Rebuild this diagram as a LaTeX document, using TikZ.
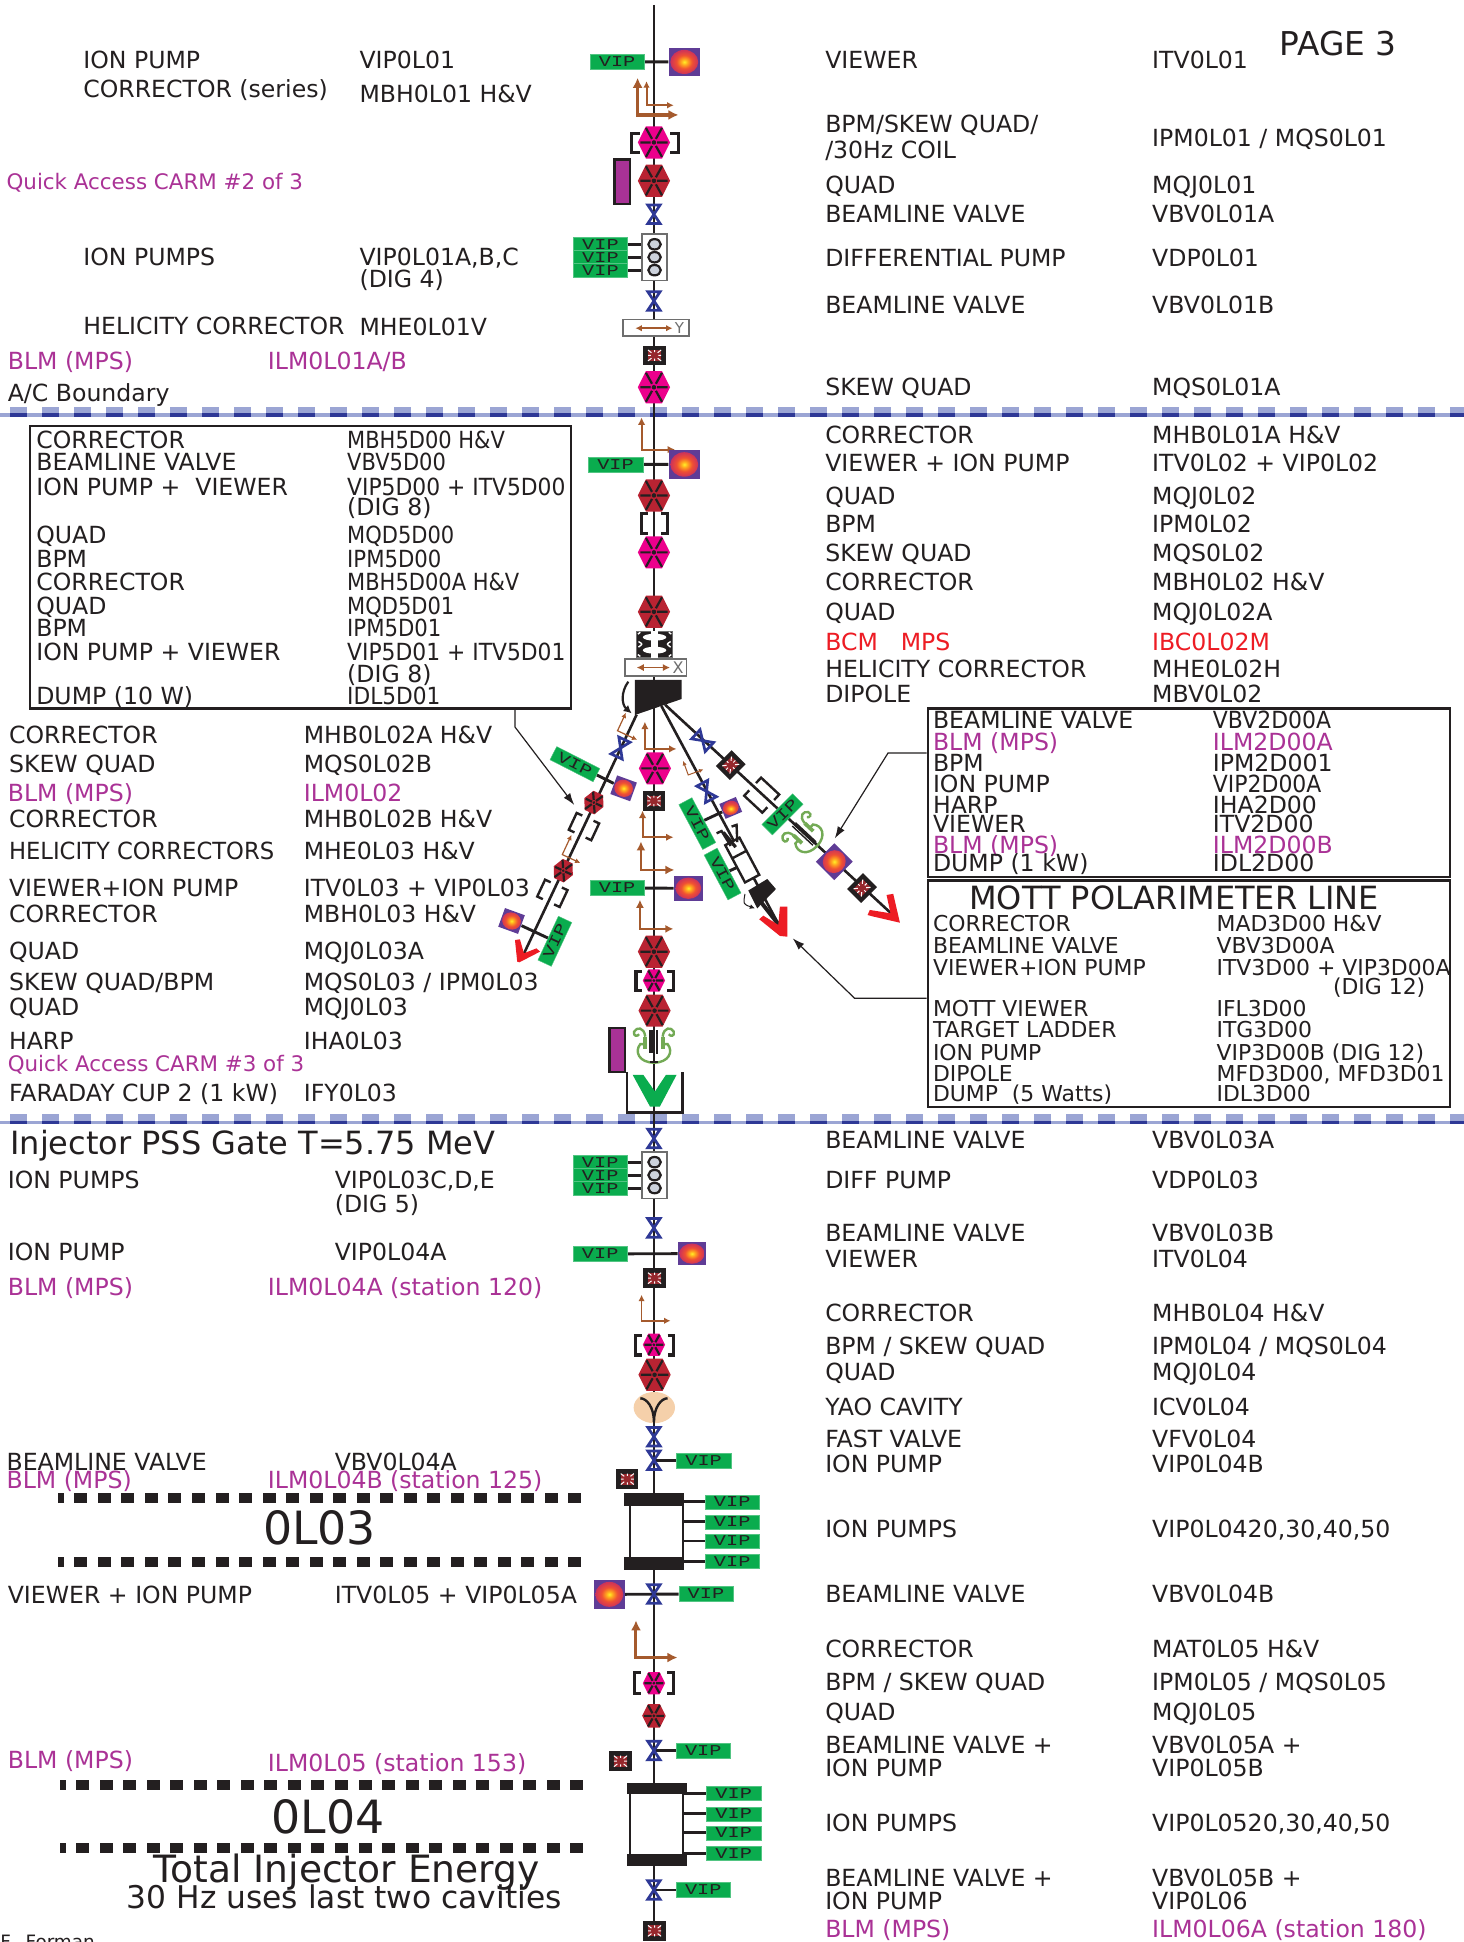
\documentclass[tikz,border=0pt]{standalone}
\usepackage{fontspec}
\usepackage{graphicx}
\setmainfont{DejaVu Sans}
\newfontfamily\vipf{Liberation Mono}
\usetikzlibrary{arrows.meta,backgrounds,calc}
\definecolor{txt}{RGB}{35,31,32}
\definecolor{mpur}{RGB}{170,50,150}
\definecolor{mred}{RGB}{237,28,36}
\definecolor{vipg}{RGB}{10,172,78}
\definecolor{hpink}{RGB}{236,0,140}
\definecolor{hred}{RGB}{185,35,50}
\definecolor{vblue}{RGB}{46,56,150}
\definecolor{cbrown}{RGB}{165,90,45}
\definecolor{vwbg}{RGB}{95,60,150}
\definecolor{vwa}{RGB}{255,240,40}
\definecolor{vwb}{RGB}{255,165,30}
\definecolor{vwc}{RGB}{240,80,50}
\definecolor{vwd}{RGB}{205,50,90}
\definecolor{blmr}{RGB}{150,40,45}
\definecolor{bandl}{RGB}{155,165,212}
\definecolor{bandd}{RGB}{46,56,150}
\definecolor{harpg}{RGB}{115,170,85}
\definecolor{peach}{RGB}{245,208,170}
\definecolor{capp}{RGB}{168,50,150}
\definecolor{ringf}{RGB}{205,210,220}
\definecolor{grayb}{RGB}{110,110,110}
\pgfdeclareradialshading{vw}{\pgfpointorigin}{color(0bp)=(vwa); color(6bp)=(vwb); color(14bp)=(vwc); color(25bp)=(vwd); color(50bp)=(vwd)}
\newcounter{lb}
\newcommand\lab[4][txt]{\stepcounter{lb}\node[lbl,text=#1] (lb\arabic{lb}) at (#2,{#3+7}) {#4};}
\newcommand\lrow[5]{\lab{#1}{#3}{#4}\lab{#2}{#3}{#5}}
\newcommand\rrow[3]{\lab{666}{#1}{#2}\lab{930}{#1}{#3}}
\newcommand\purow[3]{\lab[mpur]{6}{#1}{#2}\lab[mpur]{#3}{#1}}
% box 1 row: scale of the second column as the last argument
\newcommand\brow[4]{\lab{29}{#1}{#2}\lab{280}{#1}{\scalebox{#4}[1]{#3}}}
% box 3 row: smaller type
\newcommand\mrow[3]{\lab{753}{#1}{\fontsize{10.95pt}{11pt}\selectfont #2}\lab{982}{#1}{\fontsize{10.95pt}{11pt}\selectfont #3}}
\newcommand\hexa[5]{\begin{scope}[shift={(#1,#2)},rotate=#5]
 \fill[#4] (-#3,0)--({-#3/2},-#3)--({#3/2},-#3)--(#3,0)--({#3/2},#3)--({-#3/2},#3)--cycle;
 \draw[spoke] ({-.85*#3},0)--({-.2*#3},0) ({.2*#3},0)--({.85*#3},0)
  ({-.5*#3},{-.9*#3})--({-.12*#3},{-.22*#3}) ({.5*#3},{-.9*#3})--({.12*#3},{-.22*#3})
  ({-.5*#3},{.9*#3})--({-.12*#3},{.22*#3}) ({.5*#3},{.9*#3})--({.12*#3},{.22*#3});
 \fill[txt] (0,0) circle ({.14*#3});
\end{scope}}
\newcommand\valve[3]{\draw[valveline,shift={(#1,#2)},rotate=#3] (-5,-7.5)--(5,-7.5)--(-5,7.5)--(5,7.5)--cycle;}
\newcommand\blm[3]{\begin{scope}[shift={(#1,#2)},rotate=#3]
 \fill[txt] (-9,-8) rectangle (9,8);
 \fill[blmr] (-5.3,-4.4) rectangle (5.3,4.4);
 \draw[white,line width=.5pt] (-5.3,-4.4)--(-2.5,-2.2) (5.3,-4.4)--(2.5,-2.2) (-5.3,4.4)--(-2.5,2.2) (5.3,4.4)--(2.5,2.2) (0,-4.4)--(0,-2.6) (0,4.4)--(0,2.6) (-5.3,0)--(-3,0) (5.3,0)--(3,0);
\end{scope}}
\newcommand\corr[7][3.7pt]{\draw[cbrown,line width=#6,{Latex[length=#1,width=#1]}-{Latex[length=#1,width=#1]},shift={(#2,#3)},rotate=#7] (0,-#4) -- (0,0) -- (#5,0);}
\newcommand\bracks[7]{\draw[txt,line width=#6,shift={(#1,#2)},rotate=#7]
 ({-#3+#5},-#4)--(-#3,-#4)--(-#3,#4)--({-#3+#5},#4) ({#3-#5},-#4)--(#3,-#4)--(#3,#4)--({#3-#5},#4);}
\newcommand\vipn[5][]{\node[vipbox,rotate=#5,#1] (#2) at (#3,#4) {\scalebox{1.35}[1]{VIP}};}
\newcommand\viewer[6]{\node[vwbox,minimum width={#4*.61929pt},minimum height={#5*.61929pt},rotate=#6] (#1) at (#2,#3) {};
 \begin{scope}[shift={(#2,#3)},rotate=#6]\shade[shading=vw] (0,0) ellipse ({#4*.45} and {#5*.43});\end{scope}}
\newcommand\pump[2]{\node[pumpbox] (#1) at (528.5,#2) {};
 \foreach \d in {-10.45,0,10.45} {\draw[txt,line width=1.1pt,fill=ringf] (528.5,{#2+\d}) ellipse (5 and 4.2);}}
\newcommand\harp[5]{\begin{scope}[shift={(#1,#2)},rotate=#4,scale=#3]
 \draw[harpg,line width=1.9pt] (-7,-7)--(-7,3) (7,-7)--(7,3);
 \draw[harpg,line width=1.2pt] (-7,-7) .. controls (-8,-15) and (-14,-15) .. (-16,-11) .. controls (-17,-7) and (-13,-7) .. (-12,-9)
   (7,-7) .. controls (8,-15) and (14,-15) .. (16,-11) .. controls (17,-7) and (13,-7) .. (12,-9)
   (-7,-1) -- (-11,-1) .. controls (-16,5) and (-12,14) .. (0,14) .. controls (12,14) and (16,5) .. (11,-1) -- (7,-1);
 #5
\end{scope}}
\newcommand\dashrow[3]{\foreach \k in {0,...,21} {\fill[txt] ({#1-19*\k-10.5},{#2-4}) rectangle ({#1-19*\k},{#2+4});}
 \fill[txt] (#3,{#2-4}) rectangle ({#1-19*22},{#2+4});}
\newcommand\band[1]{\fill[bandl] (0,{#1+5.4}) rectangle (1182,{#1+8.1});
 \foreach \k in {-19,...,28} {\fill[bandl] ({473.1+25.84*\k},#1) rectangle ({486.9+25.84*\k},{#1+5.4});
  \fill[bandd] ({473.1+25.84*\k},{#1+5.4}) rectangle ({486.9+25.84*\k},{#1+8.1});}}
\newcommand\cavity[3]{\node[cavbox,minimum width=42.5*.61929pt,minimum height={(#3-#2-9.5)*.61929pt}] (cav#1) at (530,{(#2+#3)/2}) {};}
\tikzset{
 lbl/.style={anchor=base west,inner sep=0pt,font=\fontsize{11.8pt}{12pt}\selectfont},
 big/.style={anchor=base west,inner sep=0pt,text=txt},
 spoke/.style={txt,line width=1.1pt},
 valveline/.style={vblue,line width=1.35pt,line join=miter},
 vipbox/.style={fill=vipg,draw=vipg!70!white,line width=.2pt,minimum width=27.2pt,minimum height=7.4pt,inner sep=0pt,text=txt,font=\vipf\fontsize{7.5pt}{8pt}\selectfont},
 vwbox/.style={fill=vwbg,inner sep=0pt},
 pumpbox/.style={draw=grayb,fill=white,line width=.7pt,minimum width=12.6pt,minimum height=23.1pt,inner sep=0pt},
 cavbox/.style={draw=txt,fill=white,line width=1pt,inner sep=0pt},
 frameb/.style={draw=txt,line width=1.2pt,inner sep=0pt},
 beam/.style={txt,line width=1.3pt},
 stub/.style={txt,line width=1.45pt},
 notearrow/.style={txt,line width=.6pt,-{Latex[length=6pt,width=4pt]}},
 heli/.style={draw=grayb,fill=white,line width=.6pt,inner sep=0pt},
 sbox/.style={fill=capp,draw=txt,line width=1.3pt,inner sep=0pt},
}
\begin{document}
\begin{tikzpicture}[x=0.61929pt,y=-0.61929pt]
\useasboundingbox (0,0) rectangle (1182,1568);
\begin{scope}[on background layer]
 \fill[white] (0,0) rectangle (1182,1568);
 \band{328.3}
 \band{899.4}
 \coordinate (btop) at (528,4); \coordinate (bbot) at (528,1562);
 \draw[beam] (btop)--(bbot);
 \coordinate (d1) at (514,577); \coordinate (e1) at (423,770);
 \coordinate (d2) at (534,570); \coordinate (e2) at (629,747);
 \coordinate (d3) at (537,569); \coordinate (e3) at (719,737);
 \draw[beam] (d1)--(e1) (d2)--(e2) (d3)--(e3);
\end{scope}

% ---- upper section
\vipn{vipA}{498.3}{50}{0}
\viewer{vwA}{552.5}{50}{25}{22.6}{0}
\corr[5pt]{514.8}{92.8}{30}{33}{1.7pt}{0}
\corr[3.3pt]{522}{85}{19.5}{22}{1pt}{0}
\bracks{528.8}{115.6}{18.8}{7.6}{6.5}{1.5pt}{0}
\hexa{528}{115}{13}{hpink}{0}
\node[sbox,minimum width=7.8pt,minimum height=22.3pt] (qa1) at (502.3,146.6) {};
\hexa{528}{146}{13}{hred}{0}
\valve{528}{173}{0}
\pump{pumpA}{207.7}
\vipn[minimum height=6.7pt]{vipB1}{484.8}{197.3}{0}
\vipn[minimum height=6.7pt]{vipB2}{484.8}{207.8}{0}
\vipn[minimum height=6.7pt]{vipB3}{484.8}{218.2}{0}
\valve{528}{243}{0}
\node[heli,minimum width=33pt,minimum height=8.4pt] (helY) at (529.6,264.5) {};
\draw[cbrown,line width=.8pt,{Latex[length=3.2pt,width=3.2pt]}-{Latex[length=3.2pt,width=3.2pt]}] (513,265)--(543,265);
\node[inner sep=0pt,text=grayb,font=\fontsize{7.5pt}{8pt}\selectfont] (helYt) at (548.5,265) {Y};
\blm{528.5}{287}{0}
\hexa{528}{312.7}{13}{hpink}{0}

% ---- middle section, central line
\corr[3.7pt]{518}{363}{26}{27}{1pt}{0}
\vipn{vipC}{497}{375}{0}
\viewer{vwC}{552.5}{375}{25}{23}{0}
\hexa{528}{400}{13}{hred}{0}
\bracks{528.5}{423}{10.5}{8}{5}{1.5pt}{0}
\hexa{528}{446}{13}{hpink}{0}
\hexa{528}{494}{13}{hred}{0}
\fill[txt] (514,509.5) rectangle (543,531);
\draw[grayb,line width=.4pt] (514,509.5) rectangle (543,531);
\fill[white] (528.5,514.5) ellipse (9.5 and 2.8);
\fill[white] (528.5,525) ellipse (9.5 and 2.8);
\fill[white] (526,509.5) rectangle (531,531);
\draw[white,line width=.7pt] (515,512) -- (517,510.5) (542,512) -- (540,510.5) (515,528.5) -- (517,530) (542,528.5) -- (540,530) (515.5,518) .. controls (519,520) .. (515.5,522.5) (541.5,518) .. controls (538,520) .. (541.5,522.5);
\node[heli,minimum width=30.8pt,minimum height=8.5pt] (helX) at (529.5,539) {};
\draw[cbrown,line width=.8pt,{Latex[length=3.6pt,width=3.6pt]}-{Latex[length=3.6pt,width=3.6pt]}] (514,539)--(541,539);
\node[inner sep=0pt,text=grayb,font=\fontsize{8pt}{8pt}\selectfont] (helXt) at (547.5,539) {X};
\fill[txt] (512.6,549)--(550.3,549)--(550.3,564.4)--(512.6,577.3)--cycle;
\draw[txt,line width=1.1pt,-{Latex[length=4pt,width=4pt]}] (507.3,550.4) .. controls (501,559) and (502,569) .. (510,576);

\corr[3.7pt]{520.7}{604.7}{22}{25.5}{1pt}{0}
\hexa{528.8}{620.4}{13}{hpink}{0}
\blm{528}{646.7}{0}
\corr[3.7pt]{518.8}{676}{21.5}{25}{1pt}{0}
\corr[4.5pt]{517.5}{702.4}{23}{27}{1.3pt}{0}
\vipn{vipD}{498.3}{717}{0}
\viewer{vwD}{555.8}{717.2}{23}{20}{0}
\corr[4pt]{516.7}{750}{23.5}{27}{1.1pt}{0}
\hexa{528}{768.4}{13}{hred}{0}
\bracks{528.5}{792}{15}{7.8}{5}{1.6pt}{0}
\hexa{528}{791.7}{9}{hpink}{0}
\hexa{528.5}{816}{13}{hred}{0}
\harp{528}{844}{1}{0}{\fill[txt] (-3.8,-12) rectangle (-.8,6.5); \fill[txt] (1.5,-12) rectangle (3.6,7); \draw[txt,line width=1pt] (-3,13.6)--(3,13.6);}
\node[sbox,minimum width=7.8pt,minimum height=22pt] (qa2) at (498.3,847.8) {};
\draw[txt,line width=1.1pt] (506,865.7)--(506,898.3)--(551,898.3)--(551,865.7);
\fill[vipg] (510.8,867.8)--(519.4,867.8)--(528.8,881.3)--(537.7,867.8)--(546.3,867.8)--(532.8,893.4)--(524.8,893.4)--cycle;

% ---- branch 1
\corr[2.6pt]{498.6}{590}{16}{17.5}{.6pt}{-25}
\valve{501}{604}{-25}
\vipn[minimum width=24.2pt]{vipE}{464.2}{617}{-27}
\viewer{vwE}{503.5}{636.5}{17}{16}{-20}
\hexa{479.5}{648}{8.5}{hred}{-25}
\bracks{471.5}{667.4}{10}{7.5}{5}{1.2pt}{-25}
\corr[2.6pt]{454}{690}{17.5}{16}{.6pt}{-25}
\hexa{454.8}{703}{8.5}{hred}{-25}
\bracks{446}{721.3}{10}{7.5}{5}{1.2pt}{-25}
\viewer{vwF}{413}{743.6}{17}{16}{-20}
\vipn[minimum width=24.2pt]{vipF}{448}{760}{65}
\fill[mred] (415.8,759)--(419.8,758.4)--(423,769.7)--(433.2,765.7)--(436,768.4)--(419.3,777)--(417.6,776.4)--cycle;

% ---- branch 2 (Mott)
\corr[2.2pt]{555.7}{625.7}{12}{13}{.5pt}{20}
\valve{570.5}{639}{28}
\viewer{vwG}{590}{652.3}{14.5}{13}{23}
\vipn[minimum width=25.4pt]{vipG1}{563}{665}{-62}
\vipn[minimum width=25.4pt]{vipG2}{583.4}{705.7}{-62}
\coordinate (mottb) at (595.3,700.3);
\draw[txt,line width=1.2pt,fill=white,shift={(599.3,694.4)},rotate=28] (-6.5,-17) rectangle (6.5,17);
\draw[txt,line width=1.2pt,shift={(599.3,694.4)},rotate=28] (-6.5,-5) -- (6.5,-5);
\draw[txt,line width=1.2pt] (578.6,672.8)--(582.6,671)--(590,683) (590.7,667.4)--(594.7,666)--(595.3,680);
\draw[txt,line width=1.6pt] (584,672)--(594,684);
\fill[txt] (604.2,719)--(619.5,709.7)--(626.5,717.8)--(611.4,733.4)--cycle;
\draw[txt,line width=2pt] (611,724)--(629,747);
\draw[txt,line width=.5pt,-{Latex[length=2.5pt,width=2.5pt]}] (601.5,721.8) .. controls (600,730) .. (609.5,733.4);
\fill[mred] (613,742.2)--(616.3,739.3)--(628.4,746.8)--(629.7,732)--(635.7,732)--(635.7,756.3)--(629.7,755.7)--cycle;

% ---- branch 3
\valve{567.3}{598}{47}
\blm{590}{617.7}{45}
\bracks{615}{642}{10}{10}{6}{1.2pt}{47}
\vipn[minimum width=21.7pt]{vipH}{631.8}{657.5}{45}
\harp{650}{674}{.95}{47}{\draw[txt,line width=.7pt] (-2,-13)--(-2,11) (0,-13)--(0,11) (2,-13)--(2,11);}
\viewer{vwH}{673.6}{695.7}{21}{21}{45}
\blm{696}{717}{45}
\fill[mred] (700.5,738.8)--(702.3,734.7)--(719,737.4)--(715.8,722.6)--(721.2,721.7)--(726.6,745)--(705,740)--cycle;

% ---- lower section
\valve{528}{919.2}{0}
\pump{pumpB}{948.8}
\vipn[minimum height=6.7pt]{vipI1}{484.6}{938.3}{0}
\vipn[minimum height=6.7pt]{vipI2}{484.6}{948.8}{0}
\vipn[minimum height=6.7pt]{vipI3}{484.6}{959.3}{0}
\valve{528}{991.4}{0}
\vipn{vipJ}{484.6}{1012.4}{0}
\viewer{vwJ}{558.7}{1012.2}{22.6}{19}{0}
\blm{528.5}{1032}{0}
\corr[3.2pt]{518}{1066.4}{21}{23.4}{.9pt}{0}
\bracks{528.5}{1086}{15.5}{8}{5}{1.6pt}{0}
\hexa{528}{1085.8}{9}{hpink}{0}
\hexa{528.5}{1110}{13}{hred}{0}
\fill[peach] (528.3,1136.5) ellipse (16.7 and 12.6);
\draw[txt,line width=1.2pt] (517,1129) .. controls (522,1129) and (528,1136) .. (528,1148) .. controls (528,1136) and (534,1129) .. (539,1129);
\draw[txt,line width=1.3pt] (528,1140)--(528,1152);
\valve{528}{1160}{0}
\valve{528}{1179}{0}
\vipn{vipK}{568.1}{1179.3}{0}
\blm{506.5}{1194.2}{0}
\cavity{1}{1205.7}{1267.5}
\fill[txt] (504,1205.7) rectangle (552.2,1215.6);
\fill[txt] (504,1256.8) rectangle (552.2,1267.5);
\vipn[minimum height=7pt]{vipL1}{591.2}{1212.6}{0}
\vipn[minimum height=7pt]{vipL2}{591.2}{1228.7}{0}
\vipn[minimum height=7pt]{vipL3}{591.2}{1244.2}{0}
\vipn[minimum height=7pt]{vipL4}{591.2}{1260.8}{0}
\valve{528}{1287}{0}
\vipn{vipM}{570}{1287}{0}
\viewer{vwM}{492}{1287.3}{25}{23.4}{0}
\corr[5pt]{513.5}{1338.3}{30}{33.5}{1.5pt}{0}
\bracks{528}{1359}{15.8}{8.5}{5}{1.6pt}{0}
\hexa{528}{1359}{9}{hpink}{0}
\hexa{528}{1385.4}{9.5}{hred}{0}
\valve{528}{1413.4}{0}
\vipn{vipN}{567.8}{1413.5}{0}
\blm{501}{1422}{0}
\cavity{2}{1439.5}{1506.5}
\fill[txt] (506.2,1439.5) rectangle (554.4,1448.7);
\fill[txt] (506.5,1497) rectangle (554.6,1506.5);
\vipn[minimum height=7pt]{vipO1}{592.4}{1448.2}{0}
\vipn[minimum height=7pt]{vipO2}{592.4}{1464.4}{0}
\vipn[minimum height=7pt]{vipO3}{592.4}{1479.8}{0}
\vipn[minimum height=7pt]{vipO4}{592.4}{1496.4}{0}
\valve{528}{1526}{0}
\vipn{vipP}{567.8}{1526}{0}
\blm{528.5}{1559}{0}

\begin{scope}[on background layer]
 \draw[stub] (vipA)--(vwA) (vipC)--(vwC) (vipD)--(vwD) (vipE)--(vwE) (vipF)--(vwF) (vipG1)--(vwG) (vipG2)--(mottb) (vipJ)--(vwJ) (vipM)--(vwM);
 \foreach \n in {vipB1,vipB2,vipB3} {\draw[stub] (\n)--(\n -| pumpA);}
 \foreach \n in {vipI1,vipI2,vipI3} {\draw[stub] (\n)--(\n -| pumpB);}
 \foreach \n in {vipL1,vipL2,vipL3,vipL4} {\draw[stub] (\n)--(\n -| cav1);}
 \foreach \n in {vipO1,vipO2,vipO3,vipO4} {\draw[stub] (\n)--(\n -| cav2);}
 \draw[stub] (vipK)--(528,1179.3) (vipN)--(528,1413.5) (vipP)--(528,1526);
\end{scope}

% ---- band dashes
\dashrow{469.5}{1209.5}{46.8}
\dashrow{469.5}{1261}{46.8}
\dashrow{471}{1441.5}{48.5}
\dashrow{471}{1492}{48.5}

% ---- boxes and their arrows
\node[frameb,minimum width=270.6pt,minimum height=141.2pt] (box1) at (242.5,458) {};
\node[frameb,minimum width=261.3pt,minimum height=84.2pt] (box2) at (960,640) {};
\node[frameb,minimum width=261.3pt,minimum height=113.3pt] (box3) at (960,802.5) {};
\coordinate (n1b) at (415.8,587); \coordinate (n1c) at (463.7,650);
\draw[notearrow] (box1.south -| n1b)--(n1b)--(n1c);
\coordinate (n2b) at (717,608); \coordinate (n2c) at (674,677);
\draw[notearrow] (box2.west |- n2b)--(n2b)--(n2c);
\coordinate (n3b) at (690,806); \coordinate (n3c) at (640,757.6);
\draw[notearrow] (box3.west |- n3b)--(n3b)--(n3c);

% ---- text: upper left
\lrow{67}{290}{48}{ION PUMP}{VIP0L01}
\lab{67}{72}{CORRECTOR (series)}\lab{290}{76}{MBH0L01 H\&V}
\lab[mpur]{5}{146}{\fontsize{10.7pt}{11pt}\selectfont Quick Access CARM \#2 of 3}
\lrow{67}{290}{207}{ION PUMPS}{VIP0L01A,B,C}
\lab{290}{225}{(DIG 4)}
\lab{67}{263}{HELICITY CORRECTOR}\lab{290}{264}{MHE0L01V}
\purow{291}{BLM (MPS)}{216}{ILM0L01A/B}
\lab{6}{317}{A/C Boundary}
% upper right
\rrow{48}{VIEWER}{ITV0L01}
\node[big,font=\fontsize{16.4pt}{17pt}\selectfont] (page) at (1033,45) {PAGE 3};
\lab{666}{100}{BPM/SKEW QUAD/}\lab{666}{121}{/30Hz COIL}\lab{930}{111}{IPM0L01 / MQS0L01}
\rrow{149}{QUAD}{MQJ0L01}
\rrow{173}{BEAMLINE VALVE}{VBV0L01A}
\rrow{208}{DIFFERENTIAL PUMP}{VDP0L01}
\rrow{246}{BEAMLINE VALVE}{VBV0L01B}
\rrow{312}{SKEW QUAD}{MQS0L01A}
% box 1
\brow{355}{CORRECTOR}{MBH5D00 H\&V}{.89}
\brow{373}{BEAMLINE VALVE}{VBV5D00}{.89}
\brow{393}{ION PUMP +\ \ VIEWER}{VIP5D00 + ITV5D00}{.925}
\lab{280}{409}{(DIG 8)}
\brow{432}{QUAD}{MQD5D00}{.89}
\brow{451}{BPM}{IPM5D00}{.9}
\brow{470}{CORRECTOR}{MBH5D00A H\&V}{.89}
\brow{489}{QUAD}{MQD5D01}{.89}
\brow{507}{BPM}{IPM5D01}{.9}
\brow{526}{ION PUMP + VIEWER}{VIP5D01 + ITV5D01}{.925}
\lab{280}{544}{(DIG 8)}
\brow{562}{DUMP (10 W)}{IDL5D01}{.92}
% middle right
\rrow{351}{CORRECTOR}{MHB0L01A H\&V}
\rrow{374}{VIEWER + ION PUMP}{ITV0L02 + VIP0L02}
\rrow{400}{QUAD}{MQJ0L02}
\rrow{423}{BPM}{IPM0L02}
\rrow{446}{SKEW QUAD}{MQS0L02}
\rrow{470}{CORRECTOR}{MBH0L02 H\&V}
\rrow{494}{QUAD}{MQJ0L02A}
\lab[mred]{666}{518}{BCM}\lab[mred]{727}{518}{MPS}\lab[mred]{930}{518}{IBC0L02M}
\rrow{540}{HELICITY CORRECTOR}{MHE0L02H}
\rrow{560}{DIPOLE}{MBV0L02}
% box 2
\lrow{753}{979}{581}{BEAMLINE VALVE}{\scalebox{.93}[1]{VBV2D00A}}
\lab[mpur]{753}{599}{BLM (MPS)}\lab[mpur]{979}{599}{ILM2D00A}
\lrow{753}{979}{616}{BPM}{IPM2D001}
\lrow{753}{979}{633}{ION PUMP}{\scalebox{.93}[1]{VIP2D00A}}
\lrow{753}{979}{650}{HARP}{IHA2D00}
\lrow{753}{979}{665}{VIEWER}{ITV2D00}
\lab[mpur]{753}{682}{BLM (MPS)}\lab[mpur]{979}{682}{ILM2D00B}
\lrow{753}{979}{697}{DUMP (1 kW)}{IDL2D00}
% box 3
\node[anchor=base,inner sep=0pt,text=txt,font=\fontsize{16pt}{16pt}\selectfont] (mott) at (948,734) {MOTT POLARIMETER LINE};
\mrow{745}{CORRECTOR}{MAD3D00 H\&V}
\mrow{763}{BEAMLINE VALVE}{VBV3D00A}
\mrow{781}{VIEWER+ION PUMP}{ITV3D00 + VIP3D00A}
\lab{1076}{796}{\fontsize{10.95pt}{11pt}\selectfont (DIG 12)}
\mrow{814}{MOTT VIEWER}{IFL3D00}
\mrow{831}{TARGET LADDER}{ITG3D00}
\mrow{849}{ION PUMP}{VIP3D00B (DIG 12)}
\mrow{866}{DIPOLE}{MFD3D00, MFD3D01}
\mrow{882}{DUMP\ \ (5 Watts)}{IDL3D00}
% middle left
\lrow{7}{245}{593}{CORRECTOR}{MHB0L02A H\&V}
\lrow{7}{245}{617}{SKEW QUAD}{MQS0L02B}
\purow{640}{BLM (MPS)}{245}{ILM0L02}
\lrow{7}{245}{661}{CORRECTOR}{MHB0L02B H\&V}
\lrow{7}{245}{687}{\scalebox{.96}[1]{HELICITY CORRECTORS}}{MHE0L03 H\&V}
\lrow{7}{245}{717}{VIEWER+ION PUMP}{ITV0L03 + VIP0L03}
\lrow{7}{245}{738}{CORRECTOR}{MBH0L03 H\&V}
\lrow{7}{245}{768}{QUAD}{MQJ0L03A}
\lrow{7}{245}{793}{SKEW QUAD/BPM}{MQS0L03 / IPM0L03}
\lrow{7}{245}{813}{QUAD}{MQJ0L03}
\lrow{7}{245}{840}{HARP}{IHA0L03}
\lab[mpur]{6}{858}{\fontsize{10.7pt}{11pt}\selectfont Quick Access CARM \#3 of 3}
\lrow{7}{245}{882}{FARADAY CUP 2 (1 kW)}{IFY0L03}
% lower left
\node[big,font=\fontsize{16pt}{16pt}\selectfont] (pss) at (8,932) {Injector PSS Gate T=5.75 MeV};
\lrow{6}{270}{953}{ION PUMPS}{VIP0L03C,D,E}
\lab{270}{972}{(DIG 5)}
\lrow{6}{270}{1011}{ION PUMP}{VIP0L04A}
\purow{1039}{BLM (MPS)}{216}{ILM0L04A (station 120)}
\lrow{5}{270}{1180}{BEAMLINE VALVE}{VBV0L04A}
\lab[mpur]{5}{1195}{BLM (MPS)}\lab[mpur]{216}{1195}{ILM0L04B (station 125)}
\node[anchor=base,inner sep=0pt,text=txt,font=\fontsize{22.9pt}{23pt}\selectfont] (l03) at (258,1247) {0L03};
\lrow{6}{270}{1288}{VIEWER + ION PUMP}{ITV0L05 + VIP0L05A}
\lab[mpur]{6}{1421}{BLM (MPS)}\lab[mpur]{216}{1423}{ILM0L05 (station 153)}
\node[anchor=base,inner sep=0pt,text=txt,font=\fontsize{22.9pt}{23pt}\selectfont] (l04) at (265,1480) {0L04};
\node[anchor=base,inner sep=0pt,text=txt,font=\fontsize{18.8pt}{19pt}\selectfont] (tie) at (280,1520) {Total Injector Energy};
\node[anchor=base,inner sep=0pt,text=txt,font=\fontsize{15.65pt}{16pt}\selectfont] (hz) at (278,1541) {30 Hz uses last two cavities};
\node[big,font=\fontsize{9.2pt}{10pt}\selectfont] (author) at (0,1573) {F.\ \ Forman};
% lower right
\rrow{920}{BEAMLINE VALVE}{VBV0L03A}
\rrow{953}{DIFF PUMP}{VDP0L03}
\rrow{995}{BEAMLINE VALVE}{VBV0L03B}
\rrow{1016}{VIEWER}{ITV0L04}
\rrow{1060}{CORRECTOR}{MHB0L04 H\&V}
\rrow{1087}{BPM / SKEW QUAD}{IPM0L04 / MQS0L04}
\rrow{1108}{QUAD}{MQJ0L04}
\rrow{1136}{YAO CAVITY}{ICV0L04}
\rrow{1162}{FAST VALVE}{VFV0L04}
\rrow{1182}{ION PUMP}{VIP0L04B}
\rrow{1234}{ION PUMPS}{VIP0L0420,30,40,50}
\rrow{1287}{BEAMLINE VALVE}{VBV0L04B}
\rrow{1331}{CORRECTOR}{MAT0L05 H\&V}
\rrow{1358}{BPM / SKEW QUAD}{IPM0L05 / MQS0L05}
\rrow{1382}{QUAD}{MQJ0L05}
\rrow{1409}{BEAMLINE VALVE +}{VBV0L05A +}
\rrow{1427}{ION PUMP}{VIP0L05B}
\rrow{1472}{ION PUMPS}{VIP0L0520,30,40,50}
\rrow{1516}{BEAMLINE VALVE +}{VBV0L05B +}
\rrow{1535}{ION PUMP}{VIP0L06}
\lab[mpur]{666}{1557}{BLM (MPS)}\lab[mpur]{930}{1557}{ILM0L06A (station 180)}
\end{tikzpicture}
\end{document}
